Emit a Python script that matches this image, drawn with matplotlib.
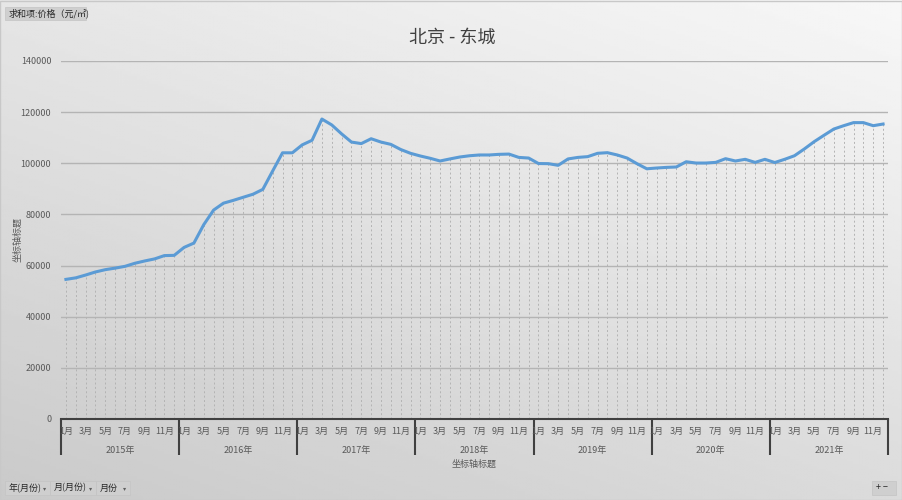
import matplotlib
matplotlib.use("Agg")
import matplotlib.pyplot as plt
import numpy as np
from matplotlib.patches import Rectangle

plt.rcParams['font.family'] = ['Noto Sans CJK SC', 'DejaVu Sans']

# data (元/㎡), Jan 2015 - Dec 2021
years = ['2015年', '2016年', '2017年', '2018年', '2019年', '2020年', '2021年']
month_labels = ['1月', '', '3月', '', '5月', '', '7月', '', '9月', '', '11月', '']
prices = [
    54600, 55200, 56300, 57500, 58400, 59000, 59700, 60900, 61800, 62600, 63900, 64000,
    67100, 68800, 76000, 81700, 84400, 85500, 86700, 87900, 89800, 97000, 104100, 104100,
    107200, 109000, 117300, 115000, 111500, 108300, 107700, 109600, 108300, 107400, 105400, 103900,
    102850, 101950, 100900, 101700, 102450, 102950, 103250, 103250, 103500, 103600, 102300, 102050,
    99900, 99850, 99200, 101700, 102300, 102600, 103900, 104150, 103250, 102050, 99850, 97850,
    98150, 98400, 98550, 100600, 100100, 100100, 100350, 101800, 100900, 101550, 100350, 101550,
    100300, 101550, 102950, 105600, 108450, 110950, 113400, 114700, 115900, 115900, 114700, 115350,
]
yticks = [0, 20000, 40000, 60000, 80000, 100000, 120000, 140000]

W, H = 903, 500
fig = plt.figure(figsize=(W / 100, H / 100), dpi=100)

# background gradient (light top-right, darker bottom-left)
bg = fig.add_axes([0, 0, 1, 1], zorder=-10)
gx, gy = np.meshgrid(np.linspace(0, 1, 300), np.linspace(1, 0, 200))
shade = 0.79 + 0.18 * (gx * 0.5 + gy * 0.8) / 1.3
bg.imshow(shade, cmap='gray', vmin=0, vmax=1, aspect='auto', extent=(0, 1, 0, 1))
bg.add_patch(Rectangle((0.0005, 0.001), 0.998, 0.997, fill=False, ec='#c8c8c8', lw=1))
bg.set_xlim(0, 1)
bg.set_ylim(0, 1)
bg.axis('off')

ax = fig.add_axes([61 / W, 1 - 419 / H, 827 / W, 358 / H])
ax.patch.set_alpha(0)

n = len(prices)
xs = np.arange(n)
ax.vlines(xs, 0, prices, colors='#b3b3b3', linestyles=(0, (2, 2.5)), lw=0.7, zorder=2)
ax.plot(xs, prices, color='#5b9bd5', lw=2.2, zorder=3)

ax.set_xlim(-0.5, n - 0.5)
ax.set_ylim(0, 140000)
ax.set_yticks(yticks)
ax.yaxis.grid(True, color='#b4b4b4', lw=1)
ax.set_axisbelow(True)
ax.tick_params(axis='y', length=0, pad=7, labelsize=6.5, labelcolor='#595959')

for s in ['top', 'right', 'left']:
    ax.spines[s].set_visible(False)
ax.spines['bottom'].set_color('#404040')
ax.spines['bottom'].set_linewidth(1.5)

# month labels (minor) and year labels (major)
ax.set_xticks(xs, labels=month_labels * len(years), minor=True)
ax.set_xticks(np.arange(len(years)) * 12 + 5.5, labels=years)
ax.tick_params(axis='x', which='minor', length=0, pad=6, labelsize=6.5, labelcolor='#595959')
ax.tick_params(axis='x', which='major', length=0, pad=19.5, labelsize=6.5, labelcolor='#595959')

# year boundary ticks
sec = ax.secondary_xaxis('bottom')
sec.set_xticks(np.arange(len(years) + 1) * 12 - 0.5, labels=[])
sec.tick_params(length=26, width=1.5, color='#404040')
sec.spines['bottom'].set_visible(False)

ax.set_xlabel('坐标轴标题', fontsize=6.5, color='#595959', labelpad=3)
fig.text(18 / W, 1 - 240 / H, '坐标轴标题', rotation=90, ha='center', va='center',
         fontsize=6.5, color='#595959')

fig.text(452 / W, 1 - 38 / H, '北京 - 东城', ha='center', va='center', fontsize=13, color='#404040')

# pivot field buttons
def button(x0, x1, y0, y1, label, arrow=True):
    r = Rectangle((x0 / W, 1 - y1 / H), (x1 - x0) / W, (y1 - y0) / H,
                  transform=fig.transFigure, fc='#cfcfcf', ec='#c4c4c4', lw=0.5)
    fig.patches.append(r)
    yc = 1 - (y0 + y1) / 2 / H
    fig.text((x0 + 4) / W, yc, label, ha='left', va='center', fontsize=6.5, color='#262626')
    if arrow:
        fig.text((x1 - 5) / W, yc, '▾', ha='center', va='center', fontsize=4.5, color='#606060')

button(5, 86, 7, 20, '求和项:价格（元/㎡)', arrow=False)
button(5, 50, 481, 495, '年(月份)')
button(50, 96, 481, 495, '月(月份)')
button(96, 130, 481, 495, '月份')
button(872, 896, 481, 495, '+ −', arrow=False)

fig.savefig('out.png', dpi=100)
